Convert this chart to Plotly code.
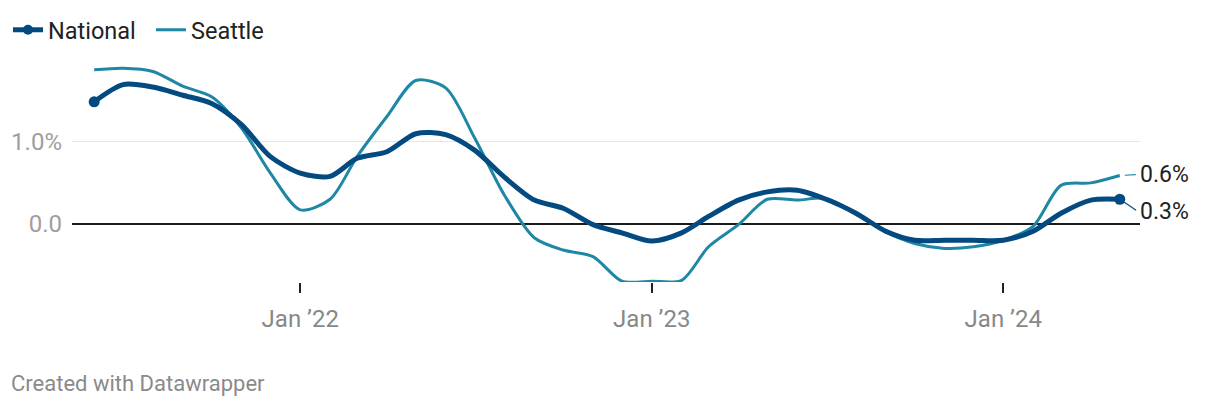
import plotly.graph_objects as go
import pandas as pd

dates = pd.date_range("2021-06-01", "2024-05-01", freq="MS")
national = [1.49, 1.70, 1.67, 1.57, 1.47, 1.21, 0.82, 0.62, 0.58, 0.80, 0.88, 1.10,
            1.09, 0.90, 0.57, 0.29, 0.19, -0.01, -0.11, -0.21, -0.11, 0.09, 0.29, 0.39,
            0.41, 0.30, 0.13, -0.09, -0.20, -0.20, -0.20, -0.20, -0.09, 0.13, 0.29, 0.30]
seattle = [1.88, 1.90, 1.86, 1.68, 1.55, 1.17, 0.62, 0.17, 0.30, 0.82, 1.31, 1.75,
           1.66, 1.05, 0.35, -0.17, -0.32, -0.40, -0.70, -0.70, -0.69, -0.28, -0.01, 0.30,
           0.29, 0.31, 0.13, -0.10, -0.24, -0.30, -0.28, -0.20, -0.03, 0.47, 0.50, 0.59]
tick_dates = ["2022-01-01", "2023-01-01", "2024-01-01"]
tick_labels = ["Jan \u201922", "Jan \u201923", "Jan \u201924"]
y_ticks = [0, 1]
y_labels = ["0.0", "1.0%"]
end_labels = ["0.3%", "0.6%"]

C_NAT = "#034a80"
C_SEA = "#1f87a6"
FONT = "Roboto"

# page has an 8px body margin; figure is sized to fill the rest of the window
W, H = 1212, 402
ML, MR, MT, MB = 64, 80, 52, 128
PW, PH = W - ML - MR, H - MT - MB

def px_to_paper(xp, yp):
    return (xp - ML) / PW, (H - MB - yp) / PH

fig = go.Figure()
fig.add_trace(go.Scatter(x=dates, y=seattle, mode="lines", line=dict(color=C_SEA, width=3, shape="spline", smoothing=0.8),
                         showlegend=False, hoverinfo="skip"))
fig.add_trace(go.Scatter(x=dates, y=national, mode="lines", line=dict(color=C_NAT, width=5, shape="spline", smoothing=0.8),
                         showlegend=False, hoverinfo="skip"))
fig.add_trace(go.Scatter(x=[dates[0], dates[-1]], y=[national[0], national[-1]], mode="markers",
                         marker=dict(color=C_NAT, size=11), showlegend=False, hoverinfo="skip"))
# legend entries
fig.add_trace(go.Scatter(x=[None], y=[None], mode="lines+markers", name="National",
                         line=dict(color=C_NAT, width=5), marker=dict(color=C_NAT, size=10), legendrank=1))
fig.add_trace(go.Scatter(x=[None], y=[None], mode="lines", name="Seattle",
                         line=dict(color=C_SEA, width=3), legendrank=2))

# end labels
for val, lab, col, dy in [(national[-1], end_labels[0], C_NAT, 12), (seattle[-1], end_labels[1], C_SEA, -1)]:
    fig.add_annotation(x=dates[-1], y=val, text=lab, showarrow=True, ax=18, ay=dy, xanchor="left",
                       arrowhead=0, arrowwidth=1.2, arrowcolor=col, standoff=5, startstandoff=2,
                       font=dict(family=FONT, size=23, color="#222222"))

cx, cy = px_to_paper(1, 375)
fig.add_annotation(text="Created with Datawrapper", xref="paper", yref="paper", x=cx, y=cy,
                   xanchor="left", yanchor="middle", showarrow=False, font=dict(family=FONT, size=22, color="#8a8a8a"))

fig.update_layout(
    width=W, height=H,
    margin=dict(l=ML, r=MR, t=MT, b=MB, autoexpand=False),
    plot_bgcolor="white", paper_bgcolor="white",
    font=dict(family=FONT),
    legend=dict(orientation="h", x=0, y=1, xref="container", yref="container", xanchor="left", yanchor="top",
                font=dict(size=23.5, color="#222222"), itemwidth=30, tracegroupgap=0, bgcolor="rgba(0,0,0,0)",
                entrywidth=98, entrywidthmode="pixels"),
    xaxis=dict(range=["2021-05-09", "2024-05-22"], tickvals=tick_dates, ticktext=tick_labels,
               showgrid=False, zeroline=False, showline=False, ticks="outside", ticklen=10, tickwidth=1.5,
               tickcolor="#222222", tickfont=dict(size=24, color="#888888"), ticklabelstandoff=5),
    yaxis=dict(range=[-0.71, 2.0], tickvals=y_ticks, ticktext=y_labels, showgrid=True, gridcolor="#e5e5e5",
               gridwidth=1.2, zeroline=True, zerolinecolor="#1a1a1a", zerolinewidth=2, showline=False,
               tickfont=dict(size=24, color="#9e9e9e"), ticks="", ticklabelstandoff=9),
)
fig.write_html("out.html")
